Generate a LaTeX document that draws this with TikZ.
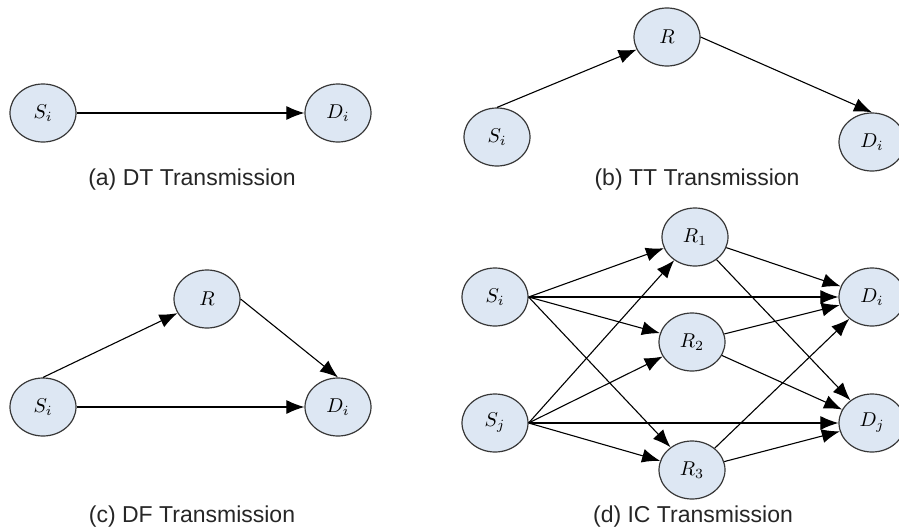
\documentclass[tikz,border=0pt]{standalone}
\usepackage{fontspec}
\newfontfamily\capfont{Liberation Sans}
\usetikzlibrary{arrows.meta,shapes.geometric}
\definecolor{nodefill}{RGB}{221,231,243}
\definecolor{nodeline}{RGB}{55,55,55}
\begin{document}
\begin{tikzpicture}[x=0.5pt,y=-0.5pt,
    nd/.style={ellipse,draw=nodeline,line width=0.6pt,fill=nodefill,
        minimum width=33pt,minimum height=29pt,inner sep=0pt},
    arr/.style={-{Latex[length=9pt,width=7pt]},line width=0.55pt},
    captxt/.style={font=\capfont\fontsize{11.5}{13}\selectfont,text=black!85}]
    \useasboundingbox (0,0) rectangle (899,530);
    % (a) DT
    \node[nd] (sa) at (43,113) {$S_i$};
    \node[nd] (da) at (338,113) {$D_i$};
    \draw[arr] (sa) -- (da);
    \node[captxt] (capa) at (192,180) {(a) DT Transmission};
    % (b) TT
    \node[nd] (sb) at (497,137) {$S_i$};
    \node[nd] (rb) at (667,37) {$R$};
    \node[nd] (db) at (872,142) {$D_i$};
    \draw[arr] (sb.north) -- (rb);
    \draw[arr] (rb.east) -- (db.north);
    \node[captxt] (capb) at (697,180) {(b) TT Transmission};
    % (c) DF
    \node[nd] (sc) at (43,407) {$S_i$};
    \node[nd] (rc) at (207,299) {$R$};
    \node[nd] (dc) at (338,407) {$D_i$};
    \draw[arr] (sc.north) -- (rc);
    \draw[arr] (rc.east) -- (dc.north);
    \draw[arr] (sc) -- (dc);
    \node[captxt] (capc) at (192,517) {(c) DF Transmission};
    % (d) IC
    \node[nd] (sid) at (495,297) {$S_i$};
    \node[nd] (sjd) at (495,423) {$S_j$};
    \node[nd] (r1d) at (695,237) {$R_1$};
    \node[nd] (r2d) at (692,342) {$R_2$};
    \node[nd] (r3d) at (692,470) {$R_3$};
    \node[nd] (did) at (872,297) {$D_i$};
    \node[nd] (djd) at (872,423) {$D_j$};
    \draw[arr] (sid.east) -- (r1d);
    \draw[arr] (sid.east) -- (did);
    \draw[arr] (sid.east) -- (r2d);
    \draw[arr] (sid.east) -- (r3d);
    \draw[arr] (sjd.east) -- (r1d);
    \draw[arr] (sjd.east) -- (r2d);
    \draw[arr] (sjd.east) -- (djd);
    \draw[arr] (sjd.east) -- (r3d);
    \draw[arr] (r1d) -- (did);
    \draw[arr] (r1d) -- (djd);
    \draw[arr] (r2d) -- (did);
    \draw[arr] (r2d) -- (djd);
    \draw[arr] (r3d) -- (did);
    \draw[arr] (r3d) -- (djd);
    \node[captxt] (capd) at (693,517) {(d) IC Transmission};
\end{tikzpicture}
\end{document}
